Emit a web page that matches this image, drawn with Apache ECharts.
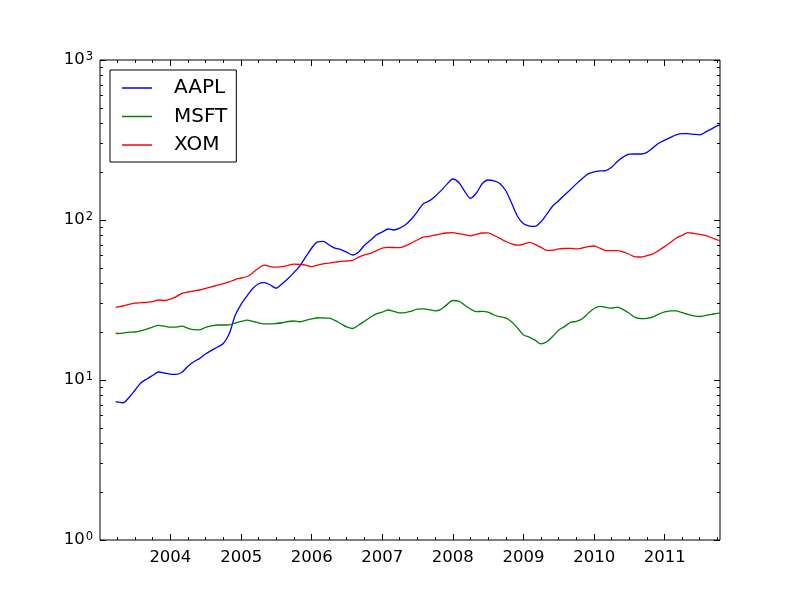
<!DOCTYPE html>
<html>
<head>
<meta charset="utf-8">
<script src="https://cdn.jsdelivr.net/npm/echarts@6/dist/echarts.min.js"></script>
<style>
html, body { margin: 0; padding: 0; background: #fff; }
#chart { width: 800px; height: 600px; }
</style>
</head>
<body>
<div id="chart"></div>
<script>
// monthly samples of the smoothed closing prices
const dates = [
    '2003-03-24', '2003-04-01', '2003-05-01', '2003-06-01', '2003-07-01', '2003-08-01', '2003-09-01', '2003-10-01', '2003-11-01', '2003-12-01',
    '2004-01-01', '2004-02-01', '2004-03-01', '2004-04-01', '2004-05-01', '2004-06-01', '2004-07-01', '2004-08-01', '2004-09-01', '2004-10-01', '2004-11-01', '2004-12-01',
    '2005-01-01', '2005-02-01', '2005-03-01', '2005-04-01', '2005-05-01', '2005-06-01', '2005-07-01', '2005-08-01', '2005-09-01', '2005-10-01', '2005-11-01', '2005-12-01',
    '2006-01-01', '2006-02-01', '2006-03-01', '2006-04-01', '2006-05-01', '2006-06-01', '2006-07-01', '2006-08-01', '2006-09-01', '2006-10-01', '2006-11-01', '2006-12-01',
    '2007-01-01', '2007-02-01', '2007-03-01', '2007-04-01', '2007-05-01', '2007-06-01', '2007-07-01', '2007-08-01', '2007-09-01', '2007-10-01', '2007-11-01', '2007-12-01',
    '2008-01-01', '2008-02-01', '2008-03-01', '2008-04-01', '2008-05-01', '2008-06-01', '2008-07-01', '2008-08-01', '2008-09-01', '2008-10-01', '2008-11-01', '2008-12-01',
    '2009-01-01', '2009-02-01', '2009-03-01', '2009-04-01', '2009-05-01', '2009-06-01', '2009-07-01', '2009-08-01', '2009-09-01', '2009-10-01', '2009-11-01', '2009-12-01',
    '2010-01-01', '2010-02-01', '2010-03-01', '2010-04-01', '2010-05-01', '2010-06-01', '2010-07-01', '2010-08-01', '2010-09-01', '2010-10-01', '2010-11-01', '2010-12-01',
    '2011-01-01', '2011-02-01', '2011-03-01', '2011-04-01', '2011-05-01', '2011-06-01', '2011-07-01', '2011-08-01', '2011-09-01', '2011-10-01', '2011-10-14'
];

const aapl = [
    7.32, 7.29, 7.21, 7.77, 8.60, 9.58, 10.15, 10.67, 11.22, 11.06,
    10.89, 10.85, 11.17, 12.20, 13.01, 13.65, 14.54, 15.31, 16.08, 16.90, 19.53, 25.30,
    29.72, 33.59, 37.15, 39.93, 40.64, 39.25, 37.48, 39.98, 43.05, 46.97, 51.73, 58.73,
    66.83, 73.07, 73.47, 69.78, 66.63, 65.39, 62.91, 60.43, 63.10, 69.58, 74.66, 80.58,
    84.14, 87.86, 86.60, 88.87, 93.33, 101.4, 112.5, 126.3, 131.6, 140.3, 152.7, 167.0,
    180.4, 171.4, 152.2, 136.8, 146.9, 168.4, 177.8, 175.3, 168.6, 152.4, 126.8, 105.2,
    94.6, 91.7, 91.2, 97.4, 108.7, 122.3, 132.0, 143.3, 154.9, 168.2, 182.0, 194.1,
    199.8, 202.5, 203.3, 213.4, 232.3, 248.0, 257.8, 258.5, 258.5, 264.9, 282.3, 302.0,
    315.7, 328.8, 340.3, 346.2, 346.2, 343.2, 340.8, 355.3, 371.5, 388.5, 392.4
];

const msft = [
    19.75, 19.53, 19.61, 19.90, 19.95, 20.30, 20.83, 21.44, 21.94, 21.69,
    21.38, 21.41, 21.69, 21.04, 20.63, 20.60, 21.32, 21.76, 22.07, 22.07, 22.13, 22.68,
    23.21, 23.68, 23.27, 22.75, 22.45, 22.42, 22.55, 22.79, 23.21, 23.37, 23.12, 23.61,
    24.09, 24.49, 24.40, 24.33, 23.58, 22.48, 21.50, 20.98, 22.07, 23.31, 24.69, 25.93,
    26.53, 27.38, 26.87, 26.30, 26.38, 26.99, 27.70, 27.82, 27.54, 27.07, 27.66, 29.59,
    31.40, 31.13, 29.42, 27.78, 26.76, 26.84, 26.57, 25.48, 24.87, 24.43, 23.05, 21.13,
    19.14, 18.49, 17.74, 16.81, 17.33, 18.75, 20.48, 21.57, 22.95, 23.24, 24.13, 26.12,
    27.99, 28.89, 28.48, 28.11, 28.51, 27.54, 26.15, 24.62, 24.22, 24.31, 24.83, 25.82,
    26.61, 27.07, 27.03, 26.38, 25.70, 25.15, 24.94, 25.33, 25.74, 26.12, 26.15
];

const xom = [
    28.48, 28.60, 29.01, 29.69, 30.20, 30.42, 30.60, 30.86, 31.62, 31.40,
    31.99, 33.21, 34.83, 35.48, 35.99, 36.52, 37.37, 38.24, 39.13, 40.05, 41.10, 42.47,
    43.40, 44.35, 46.65, 49.97, 52.18, 51.17, 50.77, 51.13, 52.10, 52.94, 52.71, 52.18,
    51.05, 52.32, 53.23, 53.84, 54.47, 55.10, 55.42, 55.98, 58.63, 60.60, 61.93, 64.20,
    66.63, 67.41, 67.30, 67.13, 69.00, 71.81, 74.99, 78.07, 79.07, 80.35, 81.99, 82.93,
    83.29, 82.22, 81.05, 79.66, 81.28, 82.93, 83.18, 80.00, 76.74, 73.38, 70.99, 69.58,
    70.59, 72.44, 70.39, 67.41, 64.57, 64.76, 65.92, 66.37, 66.45, 65.92, 66.83, 68.08,
    68.78, 66.53, 64.39, 64.30, 64.30, 63.10, 61.10, 58.90, 58.73, 59.82, 61.38, 64.57,
    68.20, 72.55, 76.95, 80.25, 83.29, 82.45, 81.28, 79.88, 77.45, 74.99, 74.45
];

const names = ['AAPL', 'MSFT', 'XOM'];
const colors = ['#0000ff', '#008000', '#ff0000'];

const yearTicks = ['2004-01-01', '2005-01-01', '2006-01-01', '2007-01-01', '2008-01-01', '2009-01-01', '2010-01-01', '2011-01-01'];
const quarterTicks = [
    '2003-04-01', '2003-07-01', '2003-10-01', '2004-04-01', '2004-07-01', '2004-10-01',
    '2005-04-01', '2005-07-01', '2005-10-01', '2006-04-01', '2006-07-01', '2006-10-01',
    '2007-04-01', '2007-07-01', '2007-10-01', '2008-04-01', '2008-07-01', '2008-10-01',
    '2009-04-01', '2009-07-01', '2009-10-01', '2010-04-01', '2010-07-01', '2010-10-01',
    '2011-04-01', '2011-07-01', '2011-10-01'
];
const decadeTicks = [1, 10, 100, 1000];
const minorLogTicks = [2, 3, 4, 5, 6, 7, 8, 9, 20, 30, 40, 50, 60, 70, 80, 90, 200, 300, 400, 500, 600, 700, 800, 900];

const font = 'DejaVu Sans';
const toMs = s => Date.parse(s);
const xMin = toMs('2003-01-02');
const xMax = toMs('2011-10-14');

const chart = echarts.init(document.getElementById('chart'), null, { renderer: 'canvas' });

const tickStyle = { color: '#000', width: 1 };

// dates are plotted as millisecond numbers on a value axis
const xAxisOf = (position, ticks, len, showLabel) => ({
    type: 'value',
    position: position,
    min: xMin,
    max: xMax,
    scale: true,
    splitLine: { show: false },
    axisLine: { show: false },
    axisTick: { show: true, inside: true, length: len, lineStyle: tickStyle, customValues: ticks.map(toMs) },
    axisLabel: showLabel ? {
        show: true,
        customValues: ticks.map(toMs),
        margin: 9,
        color: '#000',
        fontFamily: font,
        fontSize: 16.5,
        formatter: v => String(new Date(v).getUTCFullYear())
    } : { show: false }
});

const yAxisOf = (position, ticks, len, showLabel) => ({
    type: 'log',
    logBase: 10,
    position: position,
    min: 1,
    max: 1000,
    splitLine: { show: false },
    axisLine: { show: false },
    axisTick: { show: true, inside: true, length: len, lineStyle: tickStyle, customValues: ticks },
    axisLabel: showLabel ? {
        show: true,
        customValues: ticks,
        margin: 7,
        formatter: v => '{b|10}{e|' + Math.round(Math.log10(v)) + '}',
        rich: {
            b: { fontFamily: font, fontSize: 16.5, color: '#000', verticalAlign: 'bottom' },
            e: { fontFamily: font, fontSize: 11.5, color: '#000', verticalAlign: 'bottom', padding: [0, 0, 5, 1] }
        }
    } : { show: false }
});

const option = {
    animation: false,
    backgroundColor: '#fff',
    grid: { left: 100, right: 80, top: 60, bottom: 60, show: true, borderColor: '#000', borderWidth: 1, backgroundColor: 'transparent' },
    legend: {
        data: names,
        orient: 'vertical',
        left: 110,
        top: 70,
        padding: [8, 9, 7, 12],
        itemGap: 8.5,
        itemWidth: 30,
        itemHeight: 1.5,
        icon: 'rect',
        borderColor: '#000',
        borderWidth: 1,
        backgroundColor: '#fff',
        textStyle: { fontFamily: font, fontSize: 20, color: '#000', padding: [0, 0, 0, 17] }
    },
    xAxis: [
        xAxisOf('bottom', yearTicks, 6, true),
        xAxisOf('top', yearTicks, 6, false),
        xAxisOf('bottom', quarterTicks, 3, false),
        xAxisOf('top', quarterTicks, 3, false)
    ],
    yAxis: [
        yAxisOf('left', decadeTicks, 6, true),
        yAxisOf('right', decadeTicks, 6, false),
        yAxisOf('left', minorLogTicks, 3, false),
        yAxisOf('right', minorLogTicks, 3, false)
    ],
    series: [aapl, msft, xom].map((vals, i) => ({
        name: names[i],
        type: 'line',
        xAxisIndex: 0,
        yAxisIndex: 0,
        data: dates.map((d, k) => [toMs(d), vals[k]]),
        showSymbol: false,
        smooth: 0.3,
        color: colors[i],
        lineStyle: { width: 1.3, color: colors[i] }
    }))
};

chart.setOption(option);
</script>
</body>
</html>
